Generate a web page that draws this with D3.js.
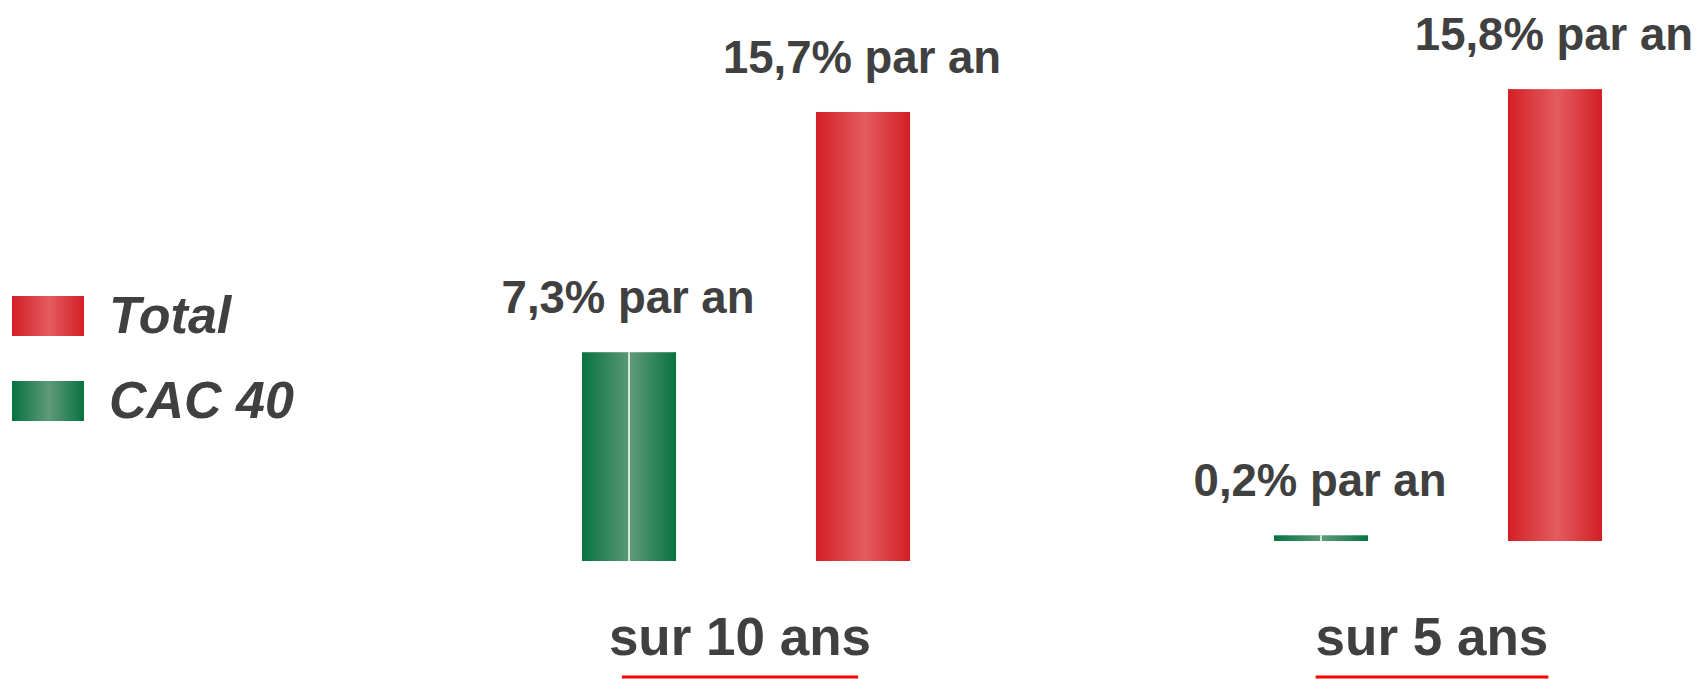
<!DOCTYPE html>
<html>
<head>
<meta charset="utf-8">
<script src="https://cdn.jsdelivr.net/npm/d3@7"></script>
<style>
	html, body { margin: 0; padding: 0; background: #ffffff; }
	svg { display: block; font-family: "Liberation Sans", Arial, sans-serif; }
</style>
</head>
<body>
<script>
'use strict';

// Data
const categories = ["sur 10 ans", "sur 5 ans"];
const series = ["CAC 40", "Total"];
const cacValues = [7.3, 0.2];
const totalValues = [15.7, 15.8];
const valueLabels = [
	["7,3% par an", "15,7% par an"],
	["0,2% par an", "15,8% par an"]
];
const legendOrder = ["Total", "CAC 40"];

const params = {
	width: 1698,
	height: 679,
	textColor: "#404040",
	baselines: [561, 541],
	pxPerPercent: 28.6
};

const colors = {
	"Total": { edge: "#d31f25", mid: "#e35c5f" },
	"CAC 40": { edge: "#08723f", mid: "#5e9a78" }
};

const makeContainer = () => {
	return d3.select("body")
		.append("svg")
		.attr("width", params.width)
		.attr("height", params.height)
}

// horizontal "cylinder" gradients, one per series
const addGradients = (svg) => {
	const defs = svg.append("defs")
	for (let s of series) {
		const id = "grad-" + s.replace(/\s/g, "")
		const g = defs.append("linearGradient")
			.attr("id", id)
			.attr("x1", "0%").attr("x2", "100%")
			.attr("y1", "0%").attr("y2", "0%")
		g.append("stop").attr("offset", "0%").attr("stop-color", colors[s].edge)
		g.append("stop").attr("offset", "52%").attr("stop-color", colors[s].mid)
		g.append("stop").attr("offset", "100%").attr("stop-color", colors[s].edge)
	}
}

const gradUrl = (s) => `url(#grad-${s.replace(/\s/g, "")})`

const makeScales = () => {
	const x0 = d3.scaleBand()
		.domain(categories)
		.range([582, 1602])
		.paddingInner(0.526)

	const x1 = d3.scaleBand()
		.domain(series)
		.range([0, x0.bandwidth()])
		.paddingInner(0.598)

	const h = d3.scaleLinear()
		.domain([0, 16])
		.range([0, 16 * params.pxPerPercent])

	return [x0, x1, h];
}

const drawBars = (svg, x0, x1, h) => {
	const rows = categories.map((c, i) => ({
		cat: c,
		base: params.baselines[i],
		bars: [
			{ s: "CAC 40", v: cacValues[i], label: valueLabels[i][0] },
			{ s: "Total", v: totalValues[i], label: valueLabels[i][1] }
		]
	}))

	const groups = svg.append("g")
		.selectAll("g")
		.data(rows)
		.join("g")
			.attr("transform", d => `translate(${x0(d.cat)},0)`)

	groups.each(function (row) {
		const g = d3.select(this)
		for (let b of row.bars) {
			const bx = x1(b.s)
			const bh = h(b.v)
			g.append("rect")
				.attr("x", bx)
				.attr("y", row.base - bh)
				.attr("width", x1.bandwidth())
				.attr("height", bh)
				.attr("fill", gradUrl(b.s))
			if (b.s === "CAC 40") {
				// thin white seam down the middle of the green bar
				g.append("line")
					.attr("x1", bx + x1.bandwidth() / 2)
					.attr("x2", bx + x1.bandwidth() / 2)
					.attr("y1", row.base - bh)
					.attr("y2", row.base)
					.attr("stroke", "#ffffff")
					.attr("stroke-width", 1.5)
			}
			g.append("text")
				.attr("x", bx + x1.bandwidth() / 2 - 1)
				.attr("y", row.base - bh - 39)
				.attr("text-anchor", "middle")
				.attr("font-size", 45.5)
				.attr("font-weight", "bold")
				.attr("fill", params.textColor)
				.text(b.label)
		}

		// category label + red underline
		const cx = x0.bandwidth() / 2 - 6
		g.append("text")
			.attr("x", cx)
			.attr("y", 655)
			.attr("text-anchor", "middle")
			.attr("font-size", 53)
			.attr("font-weight", "bold")
			.attr("fill", params.textColor)
			.text(row.cat)
		const tw = g.select("text:last-of-type").node().getComputedTextLength()
		g.append("line")
			.attr("x1", cx - tw / 2 + (row.cat === categories[0] ? 13 : 0))
			.attr("x2", cx + tw / 2 - (row.cat === categories[0] ? 13 : 0))
			.attr("y1", 677)
			.attr("y2", 677)
			.attr("stroke", "#ff0000")
			.attr("stroke-width", 3)
	})
}

const drawLegend = (svg) => {
	const legend = svg.append("g")
		.selectAll("g")
		.data(legendOrder)
		.join("g")
			.attr("transform", (d, i) => `translate(12,${296 + i * 85})`)

	legend.append("rect")
		.attr("width", 72)
		.attr("height", 40)
		.attr("fill", d => gradUrl(d))

	legend.append("text")
		.attr("x", 97)
		.attr("y", 37)
		.attr("font-size", 52)
		.attr("font-weight", "bold")
		.attr("font-style", "italic")
		.attr("fill", params.textColor)
		.text(d => d)
}

const svg = makeContainer()
addGradients(svg)
const [x0, x1, h] = makeScales()
drawBars(svg, x0, x1, h)
drawLegend(svg)
</script>
</body>
</html>
